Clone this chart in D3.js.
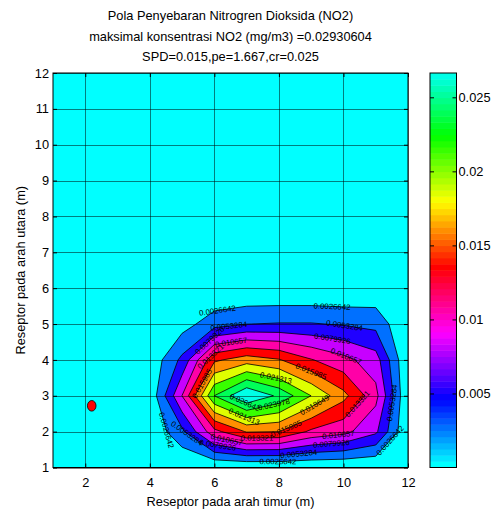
<!DOCTYPE html>
<html><head><meta charset="utf-8">
<script src="https://cdn.jsdelivr.net/npm/d3@7"></script>
<style>
body{margin:0;background:#fff;}
svg{display:block;font-family:"Liberation Sans",Arial,Helvetica,sans-serif;}
</style></head><body>
<svg id="chart" width="495" height="513"></svg>
<script>
// ---------------- data ----------------
const titleLines = [
  "Pola Penyebaran Nitrogren Dioksida (NO2)",
  "maksimal konsentrasi NO2 (mg/m3) =0.02930604",
  "SPD=0.015,pe=1.667,cr=0.025"
];
const xLabel = "Reseptor pada arah timur (m)";
const yLabel = "Reseptor pada arah utara (m)";
const xGrid = [1,2,3,4,5,6,7,8,9,10,11,12];
const yGrid = [1,2,3,4,5,6,7,8,9,10,11,12];
const xTicks = [2,4,6,8,10,12];
const yTicks = [1,2,3,4,5,6,7,8,9,10,11,12];
const maxConcentration = 0.02930604;
const contourLevels = [0.0026642,0.0053284,0.0079926,0.0106567,0.0133209,0.0159851,0.0186493,0.0213135,0.0239776,0.0266418];
const levelLabels = ["0.0026642","0.0053284","0.0079926","0.010657","0.013321","0.015985","0.018649","0.021313","0.023978","0.026642"];
const colorbarTicks = [0.005,0.01,0.015,0.02,0.025];
const colorbarTickLabels = ["0.005","0.01","0.015","0.02","0.025"];
const sourcePoint = [2.2, 2.72];
// concentration (mg/m3), rows y = 1..12, columns x = 1..12
const concentration = [
  [0,0,0,0,0,0,0,0,0,0,0,0],
  [0,0,0,0.0004,0.0047,0.0125,0.0162,0.0160,0.0128,0.0115,0.0085,0],
  [0,0,0,0.0006,0.0107,0.0240,0.02930604,0.0261,0.0213,0.0168,0.0115,0],
  [0,0,0,0.0006,0.0060,0.0155,0.0174,0.0162,0.0135,0.0115,0.0092,0],
  [0,0,0,0.0002,0.0015,0.0042,0.0053,0.0055,0.0055,0.0051,0.0045,0],
  [0,0,0,0,0,0,0,0,0,0,0.0005,0],
  [0,0,0,0,0,0,0,0,0,0,0,0],
  [0,0,0,0,0,0,0,0,0,0,0,0],
  [0,0,0,0,0,0,0,0,0,0,0,0],
  [0,0,0,0,0,0,0,0,0,0,0,0],
  [0,0,0,0,0,0,0,0,0,0,0,0],
  [0,0,0,0,0,0,0,0,0,0,0,0]
];
// contour label anchors: [x, y, level index]
const labelAnchors = [
  [6.11,5.28,0],[9.65,5.56,0],[6.45,4.89,1],[10.02,4.89,1],[5.93,4.47,2],[6.52,4.5,3],
  [9.65,4.56,2],[10.05,4.03,3],[5.93,4.05,4],[10.58,2.66,4],[5.6,3.35,5],[9.0,3.69,5],
  [9.18,2.63,6],[7.91,3.5,7],[6.92,2.41,7],[6.98,2.88,9],[7.85,2.71,8],[7.32,1.85,4],
  [8.28,1.96,5],[9.83,2.05,3],[9.61,1.82,2],[8.59,1.6,1],[7.97,1.18,0],[4.56,2.05,0],
  [5.15,1.96,1],[6.11,1.66,2],[6.42,1.93,3],[11.54,2.8,1],[11.5,1.71,0]
];

// ---------------- layout ----------------
const plot = {left:53, right:408, top:73, bottom:467.5};
const cbar = {left:430, right:456.5};
const fontSize = 12.8;
const svg = d3.select("#chart");
const x = d3.scaleLinear().domain([1,12]).range([plot.left, plot.right]);
const y = d3.scaleLinear().domain([1,12]).range([plot.bottom, plot.top]);

// colormap (hsv, shifted to start at cyan), 64 entries
const nColors = 64;
const cLim = [0, contourLevels[contourLevels.length-1]];
const cmapIndex = v => Math.max(0, Math.min(nColors-1, Math.floor((v-cLim[0])/(cLim[1]-cLim[0])*nColors + 1e-9)));
const cmapColor = i => d3.hsl((180 + 360*i/nColors) % 360, 1, 0.5).formatHex();

// contours
const nx = xGrid.length, ny = yGrid.length;
const contours = d3.contours().size([nx, ny]).thresholds(contourLevels)(concentration.flat());
const gx = g => xGrid[0] + (g - 0.5) * (xGrid[1]-xGrid[0]);
const gy = g => yGrid[0] + (g - 0.5) * (yGrid[1]-yGrid[0]);
const proj = d3.geoTransform({point(px, py){ this.stream.point(x(gx(px)), y(gy(py))); }});
const path = d3.geoPath(proj);

svg.append("clipPath").attr("id","clip").append("rect")
  .attr("x",plot.left).attr("y",plot.top).attr("width",plot.right-plot.left).attr("height",plot.bottom-plot.top);

const gPlot = svg.append("g").attr("clip-path","url(#clip)");
gPlot.append("rect").attr("x",plot.left).attr("y",plot.top)
  .attr("width",plot.right-plot.left).attr("height",plot.bottom-plot.top)
  .attr("fill", cmapColor(cmapIndex(d3.min(concentration.flat()))));
gPlot.selectAll("path.fill").data(contours).join("path").attr("class","fill")
  .attr("d", path).attr("fill", d => cmapColor(cmapIndex(d.value))).attr("fill-rule","evenodd");
gPlot.selectAll("path.line").data(contours).join("path").attr("class","line")
  .attr("d", path).attr("fill","none").attr("stroke","#000").attr("stroke-width",0.8);

// grid
const gGrid = svg.append("g").attr("stroke","#000").attr("stroke-opacity",0.5).attr("stroke-width",1);
gGrid.selectAll("line.gx").data(xTicks).join("line")
  .attr("x1",d=>Math.round(x(d))+0.5).attr("x2",d=>Math.round(x(d))+0.5).attr("y1",plot.top).attr("y2",plot.bottom);
gGrid.selectAll("line.gy").data(yTicks).join("line")
  .attr("y1",d=>Math.round(y(d))+0.5).attr("y2",d=>Math.round(y(d))+0.5).attr("x1",plot.left).attr("x2",plot.right);

// contour labels snapped to their contour line
function snap(ax, ay, k){
  const px = x(ax), py = y(ay);
  let best = null;
  contours[k].coordinates.forEach(poly => poly.forEach(ring => {
    for (let i = 0; i < ring.length-1; i++){
      const x1 = x(gx(ring[i][0])), y1 = y(gy(ring[i][1]));
      const x2 = x(gx(ring[i+1][0])), y2 = y(gy(ring[i+1][1]));
      const dx = x2-x1, dy = y2-y1, L2 = dx*dx+dy*dy;
      if (L2 === 0) continue;
      let t = ((px-x1)*dx + (py-y1)*dy)/L2; t = Math.max(0, Math.min(1, t));
      const qx = x1+t*dx, qy = y1+t*dy, d = (qx-px)**2+(qy-py)**2;
      if (!best || d < best.d) best = {d, qx, qy, ang: Math.atan2(dy,dx)*180/Math.PI};
    }
  }));
  let a = best.ang; if (a > 90) a -= 180; if (a < -90) a += 180;
  return {x: best.qx, y: best.qy, a};
}
const gLab = svg.append("g").attr("clip-path","url(#clip)");
labelAnchors.forEach(([ax, ay, k]) => {
  const s = snap(ax, ay, k);
  gLab.append("text").attr("transform",`translate(${s.x},${s.y}) rotate(${s.a})`)
    .attr("text-anchor","middle").attr("dy","0.35em").attr("font-size",7.8).attr("fill","#000")
    .text(levelLabels[k]);
});

// source point
svg.append("ellipse").attr("cx",x(sourcePoint[0])).attr("cy",y(sourcePoint[1]))
  .attr("rx",4.3).attr("ry",5.3).attr("fill","#ff0000").attr("stroke","#000").attr("stroke-width",0.8);

// axes
function styleAxis(g){ g.select(".domain").remove(); g.attr("font-size",null).attr("font-family",null);
  g.selectAll("text").attr("font-size",fontSize).attr("fill","#000"); g.selectAll("line").attr("stroke","#000"); }
svg.append("g").attr("transform",`translate(0,${plot.bottom})`)
  .call(d3.axisBottom(x).tickValues(xTicks).tickSize(-4).tickPadding(10.5)).call(styleAxis);
svg.append("g").attr("transform",`translate(0,${plot.top})`)
  .call(d3.axisTop(x).tickValues(xTicks).tickSize(-4).tickFormat(()=>"")).call(styleAxis);
svg.append("g").attr("transform",`translate(${plot.left},0)`)
  .call(d3.axisLeft(y).tickValues(yTicks).tickSize(-4).tickPadding(4)).call(styleAxis);
svg.append("g").attr("transform",`translate(${plot.right},0)`)
  .call(d3.axisRight(y).tickValues(yTicks).tickSize(-4).tickFormat(()=>"")).call(styleAxis);
svg.append("rect").attr("x",plot.left).attr("y",plot.top).attr("width",plot.right-plot.left)
  .attr("height",plot.bottom-plot.top).attr("fill","none").attr("stroke","#000").attr("stroke-width",1);

// colorbar
const cy = d3.scaleLinear().domain(cLim).range([plot.bottom, plot.top]);
svg.append("g").selectAll("rect").data(d3.range(nColors)).join("rect")
  .attr("x",cbar.left).attr("width",cbar.right-cbar.left)
  .attr("y",i => cy(cLim[0]+(i+1)/nColors*(cLim[1]-cLim[0])))
  .attr("height",i => cy(cLim[0]+i/nColors*(cLim[1]-cLim[0])) - cy(cLim[0]+(i+1)/nColors*(cLim[1]-cLim[0])) + 0.5)
  .attr("fill",i => cmapColor(i));
svg.append("g").attr("transform",`translate(${cbar.right},0)`)
  .call(d3.axisRight(cy).tickValues(colorbarTicks).tickSize(-4).tickPadding(2).tickFormat((d,i)=>colorbarTickLabels[i])).call(styleAxis);
svg.append("g").attr("transform",`translate(${cbar.left},0)`)
  .call(d3.axisLeft(cy).tickValues(colorbarTicks).tickSize(-4).tickFormat(()=>"")).call(styleAxis);
svg.append("rect").attr("x",cbar.left).attr("y",plot.top).attr("width",cbar.right-cbar.left)
  .attr("height",plot.bottom-plot.top).attr("fill","none").attr("stroke","#000").attr("stroke-width",1);

// titles
const cx = (plot.left+plot.right)/2;
svg.append("g").selectAll("text").data(titleLines).join("text")
  .attr("x",cx).attr("y",(d,i)=>20+20.5*i).attr("text-anchor","middle").attr("font-size",fontSize).text(d=>d);
svg.append("text").attr("x",cx).attr("y",506).attr("text-anchor","middle").attr("font-size",fontSize).text(xLabel);
svg.append("text").attr("transform",`translate(24.5,${(plot.top+plot.bottom)/2}) rotate(-90)`)
  .attr("text-anchor","middle").attr("font-size",fontSize).text(yLabel);
</script>
</body></html>
